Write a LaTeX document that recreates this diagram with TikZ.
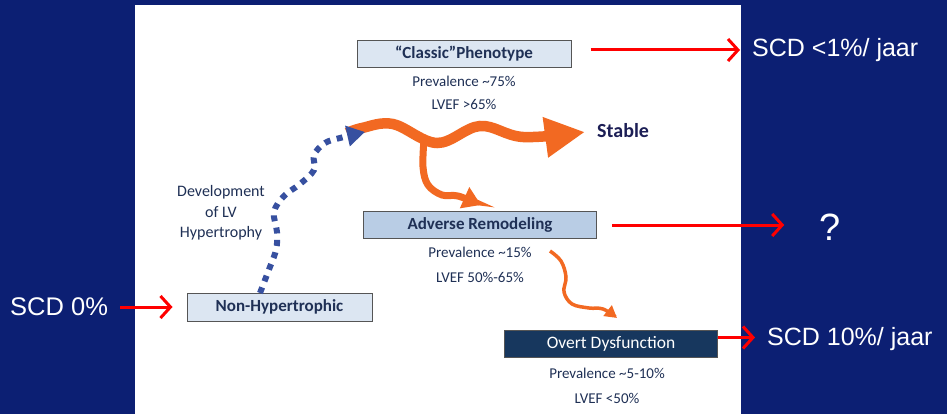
\documentclass[tikz,border=0pt]{standalone}
\usepackage{fontspec}
\setmainfont{Carlito}
\newfontfamily\arialfont{Liberation Sans}
\usetikzlibrary{arrows.meta}
\definecolor{bgnavy}{RGB}{12,31,115}
\definecolor{lightbox}{RGB}{220,230,242}
\definecolor{advbox}{RGB}{185,205,229}
\definecolor{overtbox}{RGB}{23,55,94}
\definecolor{boxgray}{RGB}{85,85,85}
\definecolor{txtdark}{RGB}{31,48,85}
\definecolor{stablec}{RGB}{28,30,85}
\definecolor{orangec}{RGB}{242,105,34}
\definecolor{bluec}{RGB}{55,80,160}
\begin{document}
\begin{tikzpicture}[x=1pt,y=-1pt,
  box/.style={draw=boxgray, line width=1pt, minimum height=27pt, inner sep=0pt,
    font=\fontsize{17}{20}\selectfont\bfseries, text=txtdark},
  info/.style={font=\fontsize{15}{18}\selectfont, text=txtdark, inner sep=0pt, anchor=base},
  scd/.style={font=\arialfont\fontsize{25}{30}\selectfont, text=white, inner sep=0pt, anchor=base west},
  redarr/.style={draw=red, line width=3pt, -{Straight Barb[length=10pt,width=22pt]}},
]
\useasboundingbox (0,0) rectangle (947,414);
\fill[bgnavy] (0,0) rectangle (947,414);
\fill[white] (135,5) rectangle (741,414);

% boxes
\node[box, fill=lightbox, minimum width=214pt] (classic) at (464,54) {“Classic”Phenotype};
\node[info] (p1) at (464,87) {Prevalence \textasciitilde75\%};
\node[info] (l1) at (464,110) {LVEF >65\%};

\node[box, fill=advbox, minimum width=233pt] (adverse) at (480,225) {Adverse Remodeling};
\node[info] (p2) at (480,257) {Prevalence \textasciitilde15\%};
\node[info] (l2) at (480,282) {LVEF 50\%-65\%};

\node[box, fill=overtbox, text=white, font=\fontsize{17.5}{20}\selectfont, minimum width=213pt] (overt) at (611,343.5) {Overt Dysfunction};
\node[info] (p3) at (607,378) {Prevalence \textasciitilde5-10\%};
\node[info] (l3) at (607,403) {LVEF <50\%};

\node[box, fill=lightbox, minimum width=185pt, minimum height=28pt] (nonhyp) at (279.5,307) {Non-Hypertrophic};

\node[font=\fontsize{20}{24}\selectfont\bfseries, text=stablec, inner sep=0pt, anchor=base west] (stable) at (597,138) {Stable};

\node[align=center, font=\fontsize{16}{20.5}\selectfont, text=txtdark, inner sep=0pt] (dev) at (221,213) {Development\\of LV\\Hypertrophy};

% SCD labels
\node[scd] (s1) at (752,57) {SCD <1\%/ jaar};
\node[scd] (s2) at (767,345) {SCD 10\%/ jaar};
\node[scd, font=\arialfont\fontsize{25.5}{30}\selectfont] (s0) at (10,315) {SCD 0\%};
\node[scd, anchor=base, font=\arialfont\fontsize{38}{40}\selectfont] (q) at (830,240) {?};

% red arrows
\draw[redarr] ([xshift=19pt,yshift=4pt]classic.east) -- ([xshift=-12pt,yshift=4pt]classic.east -| s1.west);
\draw[redarr] ([xshift=15pt]adverse.east) -- ([xshift=-35pt]adverse.east -| q.west);
\draw[redarr] ([yshift=6pt]overt.east) -- ([xshift=-12pt,yshift=6pt]overt.east -| s2.west);
\draw[redarr] ([xshift=12pt]s0.east |- nonhyp.west) -- ([xshift=-14pt]nonhyp.west);

% orange main wavy arrow
\draw[orangec, line width=10.5pt, -{Triangle[length=40pt,width=38pt]}]
  plot[smooth, tension=0.6] coordinates {(347,133) (362,128) (393,124) (437,143) (480,126) (523,137) (585,132)};
% orange branch
\draw[orangec, line width=7pt, -{Triangle[length=18pt,width=22pt]}]
  plot[smooth, tension=0.6] coordinates {(424,140) (423,167) (428,185) (442,195) (458,196) (481,205)};
% thin orange arrow
\draw[orangec, line width=3.5pt, -{Triangle[length=12pt,width=13pt]}]
  plot[smooth, tension=0.6] coordinates {(550,251) (561,261) (566,277) (564,292) (572,304) (589,308) (603,309) (617,318)};

% blue dotted arrow
\draw[bluec, line width=6pt, dash pattern=on 6pt off 6.5pt, -{Triangle[length=18pt,width=20pt]}]
  plot[smooth, tension=0.6] coordinates {(260,293) (268,272) (276,250) (277,232) (274,212) (284,196) (300,184) (314,170) (314,155) (325,143) (340,138) (365,132)};
\end{tikzpicture}
\end{document}
